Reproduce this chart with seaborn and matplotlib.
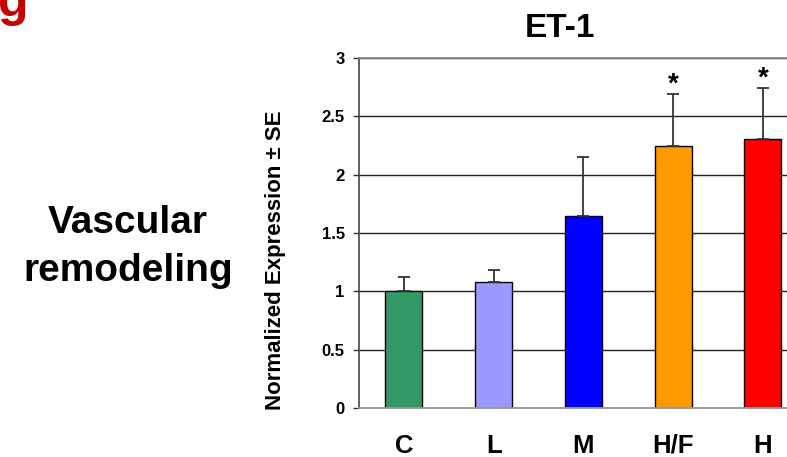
import matplotlib
matplotlib.use("Agg")
import matplotlib.pyplot as plt
import seaborn as sns
import pandas as pd

categories = ["C", "L", "M", "H/F", "H"]
values = [1.00, 1.08, 1.65, 2.25, 2.31]
errors = [0.12, 0.105, 0.50, 0.44, 0.43]
colors = ["#339966", "#9999FF", "#0000FF", "#FF9900", "#FF0000"]
significant = [False, False, False, True, True]
yticks = [0, 0.5, 1, 1.5, 2, 2.5, 3]
ytick_labels = ["0", "0.5", "1", "1.5", "2", "2.5", "3"]

sns.set_style("white")
plt.rcParams["font.family"] = ["Liberation Sans", "DejaVu Sans"]
plt.rcParams["font.weight"] = "bold"
plt.rcParams["text.color"] = "black"
plt.rcParams["axes.labelcolor"] = "black"
plt.rcParams["xtick.color"] = "black"
plt.rcParams["ytick.color"] = "black"

W, H = 787, 457
fig = plt.figure(figsize=(W / 100, H / 100), dpi=100)
ax = fig.add_axes([359 / W, (H - 408) / H, 448.75 / W, 350 / H])

df = pd.DataFrame({"cat": categories, "val": values})
sns.barplot(data=df, x="cat", y="val", hue="cat", palette=colors,
            order=categories, hue_order=categories, width=0.41,
            saturation=1, edgecolor="black", linewidth=1.0, errorbar=None,
            legend=False, ax=ax, zorder=2)

xs = list(range(len(categories)))
ax.errorbar(xs, values, yerr=[[0] * len(values), errors], fmt="none",
            ecolor="#333333", elinewidth=1.3, capsize=4.5, capthick=1.3,
            zorder=3)

for x, v, e, s in zip(xs, values, errors, significant):
    if s:
        ax.text(x, v + e + 0.025, "*", ha="center", va="baseline",
                fontsize=20, fontweight="bold", color="black")

ax.set_xlim(-0.5, 4.5)
ax.set_ylim(0, 3)
ax.set_yticks(yticks)
ax.set_yticklabels(ytick_labels, fontsize=12, fontweight="bold", color="black")
ax.set_xticks(xs)
ax.set_xticklabels(categories, fontsize=18.5, fontweight="bold", color="black")
ax.tick_params(axis="x", length=0, pad=18.5)
ax.tick_params(axis="y", length=4.3, width=1, color="#333333", pad=6, left=True)
ax.set_xlabel("")
ax.set_ylabel("")

ax.set_axisbelow(True)
ax.yaxis.grid(True, color="#222222", linewidth=1.0)
ax.xaxis.grid(False)
ax.spines["left"].set_color("#444444")
ax.spines["left"].set_linewidth(1.2)
ax.spines["bottom"].set_color("#999999")
ax.spines["bottom"].set_linewidth(1.3)
ax.spines["top"].set_color("#888888")
ax.spines["top"].set_linewidth(1.2)
ax.spines["right"].set_visible(False)

fig.text(560 / W, 1 - 37 / H, "ET-1", ha="center", va="baseline",
         fontsize=24, fontweight="bold", color="black")
fig.text(275 / W, 1 - 260 / H, "Normalized Expression ± SE", rotation=90,
         ha="center", va="center", fontsize=16, fontweight="bold", color="black")
fig.text(128 / W, 1 - 233 / H, "Vascular", ha="center", va="baseline",
         fontsize=28, fontweight="bold", color="black")
fig.text(128 / W, 1 - 281 / H, "remodeling", ha="center", va="baseline",
         fontsize=28, fontweight="bold", color="black")
fig.text(-2 / W, 1 - 16 / H, "g", ha="left", va="baseline",
         fontsize=36, fontweight="bold", color="#CC0000")

fig.savefig("out.png", dpi=100)
